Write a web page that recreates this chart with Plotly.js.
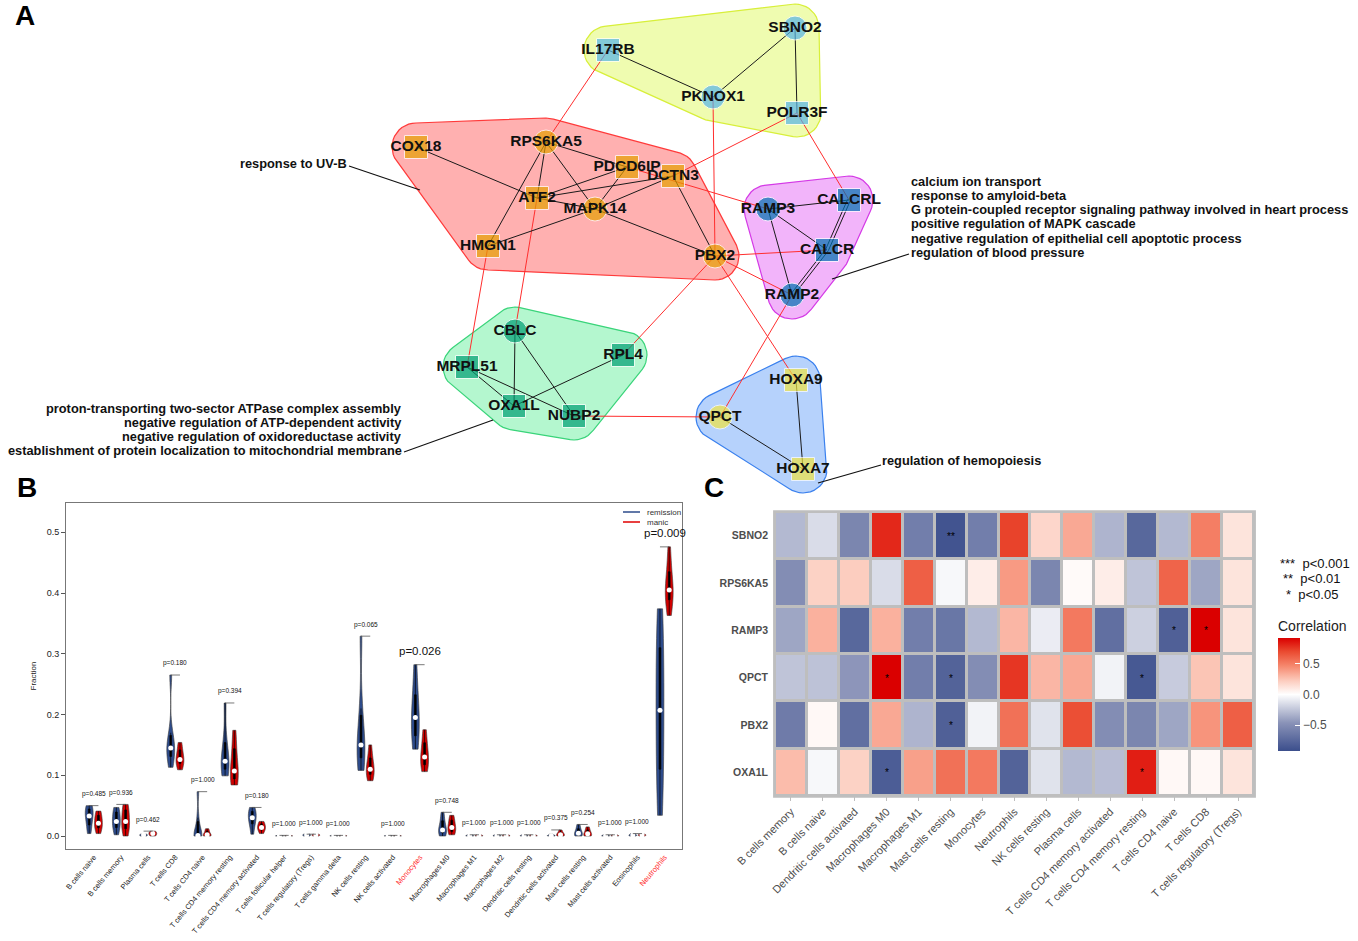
<!DOCTYPE html>
<html><head><meta charset="utf-8">
<script src="https://cdn.plot.ly/plotly-3.0.1.min.js"></script>
<style>html,body{margin:0;padding:0;background:#fff}#chart{width:1358px;height:941px}</style>
</head><body><div id="chart"></div>
<script>
// ================= DATA =================
// Panel A: network (node positions in figure pixels)
const nodeNames = ['SBNO2','IL17RB','PKNOX1','POLR3F','RPS6KA5','COX18','PDCD6IP','DCTN3','ATF2','MAPK14','HMGN1','PBX2','RAMP3','CALCRL','CALCR','RAMP2','CBLC','RPL4','MRPL51','OXA1L','NUBP2','HOXA9','QPCT','HOXA7'];
const nodeX = [795,608,713,797,546,416,627,673,537,595,488,715,768,849,827,792,515,623,467,514,574,796,720,803];
const nodeY = [28,50,97,113,142,147,167,176,198,209,246,256,209,200,250,295,331,355,367,406,416,380,417,469];
const nodeShape = ['circle','square','circle','square','circle','square','square','square','square','circle','square','circle','circle','square','square','circle','circle','square','square','square','square','square','circle','square'];
const nodeModule = [0,0,0,0,1,1,1,1,1,1,1,1,2,2,2,2,3,3,3,3,3,4,4,4];
const innerEdges = [
 ['IL17RB','PKNOX1'],['PKNOX1','SBNO2'],['SBNO2','POLR3F'],
 ['COX18','ATF2'],['RPS6KA5','ATF2'],['RPS6KA5','HMGN1'],['RPS6KA5','MAPK14'],['RPS6KA5','PDCD6IP'],
 ['ATF2','PDCD6IP'],['ATF2','DCTN3'],['ATF2','MAPK14'],['PDCD6IP','MAPK14'],['DCTN3','MAPK14'],
 ['HMGN1','MAPK14'],['MAPK14','PBX2'],['DCTN3','PBX2'],
 ['RAMP3','CALCRL'],['RAMP3','CALCR'],['RAMP3','RAMP2'],['CALCRL','CALCR'],['CALCRL','CALCR'],['CALCR','RAMP2'],['CALCR','RAMP2'],
 ['CBLC','OXA1L'],['CBLC','NUBP2'],['MRPL51','OXA1L'],['MRPL51','NUBP2'],['RPL4','OXA1L'],
 ['QPCT','HOXA7'],['HOXA9','HOXA7']];
const crossEdges = [
 ['IL17RB','RPS6KA5'],['PKNOX1','PBX2'],['POLR3F','DCTN3'],['POLR3F','CALCRL'],['PDCD6IP','RAMP3'],
 ['PBX2','CALCR'],['PBX2','RAMP2'],['PBX2','RPL4'],['PBX2','HOXA9'],['HMGN1','MRPL51'],['ATF2','CBLC'],
 ['RAMP2','QPCT'],['NUBP2','QPCT']];
const moduleTerms = [
 [],
 ['response to UV-B'],
 ['calcium ion transport','response to amyloid-beta','G protein-coupled receptor signaling pathway involved in heart process','positive regulation of MAPK cascade','negative regulation of epithelial cell apoptotic process','regulation of blood pressure'],
 ['proton-transporting two-sector ATPase complex assembly','negative regulation of ATP-dependent activity','negative regulation of oxidoreductase activity','establishment of protein localization to mitochondrial membrane'],
 ['regulation of hemopoiesis']];

// Panel B: immune cell fractions
const cellTypes = ['B cells naive','B cells memory','Plasma cells','T cells CD8','T cells CD4 naive','T cells CD4 memory resting','T cells CD4 memory activated','T cells follicular helper','T cells regulatory (Tregs)','T cells gamma delta','NK cells resting','NK cells activated','Monocytes','Macrophages M0','Macrophages M1','Macrophages M2','Dendritic cells resting','Dendritic cells activated','Mast cells resting','Mast cells activated','Eosinophils','Neutrophils'];
const remission = [
 [0.004,0.015,0.028,0.033,0.040,0.046,0.050],
 [0.002,0.012,0.020,0.024,0.032,0.042,0.047],
 [0,0.001,0.002,0.003],
 [0.113,0.128,0.140,0.145,0.152,0.170,0.265],
 [0,0,0,0.001,0.005,0.030,0.073],
 [0.099,0.108,0.116,0.123,0.135,0.160,0.219],
 [0.003,0.018,0.026,0.030,0.036,0.042,0.047],
 [0,0,0.0005,0.001],
 [0,0.001,0.002,0.003],
 [0,0,0.0005,0.001],
 [0.108,0.125,0.140,0.150,0.165,0.210,0.329],
 [0,0,0.0005,0.001],
 [0.143,0.160,0.180,0.195,0.210,0.240,0.282],
 [0,0.004,0.008,0.010,0.016,0.028,0.039],
 [0,0,0.001,0.002],
 [0,0,0.001,0.002],
 [0,0,0.001,0.002],
 [0,0,0.001,0.003],
 [0,0.001,0.003,0.006,0.012,0.019],
 [0,0,0.001,0.002],
 [0,0.001,0.002,0.004],
 [0.034,0.060,0.100,0.140,0.180,0.207,0.240,0.280,0.320,0.350,0.374]];
const manic = [
 [0.004,0.012,0.018,0.021,0.028,0.036,0.041],
 [0,0.010,0.018,0.024,0.034,0.046,0.052],
 [0,0.002,0.004,0.006,0.008],
 [0.109,0.118,0.124,0.126,0.132,0.145,0.154],
 [0,0,0.001,0.002,0.005,0.009,0.012],
 [0.084,0.092,0.100,0.107,0.125,0.150,0.174],
 [0.004,0.009,0.012,0.014,0.017,0.021,0.024],
 [0,0,0.0005,0.001],
 [0,0.001,0.002,0.003],
 [0,0,0.0005,0.001],
 [0.091,0.100,0.106,0.110,0.118,0.132,0.150],
 [0,0,0.0005,0.001],
 [0.106,0.115,0.124,0.130,0.140,0.158,0.175],
 [0.002,0.006,0.011,0.014,0.020,0.028,0.034],
 [0,0,0.001,0.002],
 [0,0,0.001,0.002],
 [0,0,0.001,0.002],
 [0,0.001,0.002,0.005,0.010],
 [0,0.001,0.002,0.005,0.010,0.015],
 [0,0,0.001,0.002],
 [0,0.001,0.002,0.003],
 [0.363,0.380,0.392,0.400,0.405,0.415,0.430,0.450,0.476]];
const pValues = ['p=0.485','p=0.936','p=0.462','p=0.180','p=1.000','p=0.394','p=0.180','p=1.000','p=1.000','p=1.000','p=0.065','p=1.000','p=0.026','p=0.748','p=1.000','p=1.000','p=1.000','p=0.375','p=0.254','p=1.000','p=1.000','p=0.009'];
const groupNames = ['remission','manic'];
const yTicksB = [0,0.1,0.2,0.3,0.4,0.5];
const yTickTextB = ['0.0','0.1','0.2','0.3','0.4','0.5'];

// Panel C: correlation heatmap
const heatGenes = ['SBNO2','RPS6KA5','RAMP3','QPCT','PBX2','OXA1L'];
const heatCells = ['B cells memory','B cells naive','Dendritic cells activated','Macrophages M0','Macrophages M1','Mast cells resting','Monocytes','Neutrophils','NK cells resting','Plasma cells','T cells CD4 memory activated','T cells CD4 memory resting','T cells CD4 naive','T cells CD8','T cells regulatory (Tregs)'];
const corrSBNO2   = [-0.30,-0.15,-0.55, 0.80,-0.60,-0.88,-0.60, 0.72, 0.18, 0.35,-0.32,-0.75,-0.30, 0.50, 0.12];
const corrRPS6KA5 = [-0.50, 0.20, 0.22,-0.15, 0.62,-0.03, 0.08, 0.40,-0.55, 0.02, 0.08,-0.25, 0.60,-0.38, 0.12];
const corrRAMP3   = [-0.38, 0.32,-0.75, 0.32,-0.60,-0.65,-0.30, 0.30,-0.08, 0.52,-0.70,-0.20,-0.80, 0.92, 0.12];
const corrQPCT    = [-0.25,-0.26,-0.45, 0.92,-0.60,-0.78,-0.50, 0.76, 0.30, 0.35,-0.05,-0.85,-0.22, 0.25, 0.12];
const corrPBX2    = [-0.62, 0.03,-0.70, 0.35,-0.32,-0.80,-0.05, 0.55,-0.12, 0.68,-0.50,-0.55,-0.38, 0.42, 0.62];
const corrOXA1L   = [ 0.28,-0.03, 0.20,-0.82, 0.38, 0.55, 0.52,-0.78,-0.12,-0.30,-0.28, 0.83, 0.03, 0.03, 0.12];
const starSBNO2   = ['','','','','','**','','','','','','','','',''];
const starRPS6KA5 = ['','','','','','','','','','','','','','',''];
const starRAMP3   = ['','','','','','','','','','','','','*','*',''];
const starQPCT    = ['','','','*','','*','','','','','','*','','',''];
const starPBX2    = ['','','','','','*','','','','','','','','',''];
const starOXA1L   = ['','','','*','','','','','','','','*','','',''];
const sigLegend = ['***\u00a0\u00a0p<0.001','**\u00a0\u00a0p<0.01','*\u00a0\u00a0p<0.05'];

// ================= STYLE / LAYOUT =================
const W = 1358, H = 941;
const BASE = 'Liberation Sans, Arial, sans-serif';
const modNodeColor = ['#56B4E9','#E69F00','#0072B2','#009E73','#F0E442'];
const modFill = ['rgba(238,252,172,0.95)','rgba(255,172,172,0.95)','rgba(241,176,250,0.95)','rgba(176,247,204,0.95)','rgba(178,208,252,0.95)'];
const modLine = ['#D8EF3A','#FF3A3A','#D43AE6','#3AD47A','#3A80EE'];
const groupColor = ['#2D4B8B','#D10000'];
const traces = [];
const idx = {}; nodeNames.forEach((n,i)=>idx[n]=i);

// --- hulls
function convexHull(points){
  const pts = points.slice().sort((a,b)=>a[0]-b[0]||a[1]-b[1]);
  const cross=(o,a,b)=>(a[0]-o[0])*(b[1]-o[1])-(a[1]-o[1])*(b[0]-o[0]);
  const lo=[]; for(const p of pts){while(lo.length>=2&&cross(lo[lo.length-2],lo[lo.length-1],p)<=0)lo.pop();lo.push(p);}
  const up=[]; for(let i=pts.length-1;i>=0;i--){const p=pts[i];while(up.length>=2&&cross(up[up.length-2],up[up.length-1],p)<=0)up.pop();up.push(p);}
  up.pop(); lo.pop(); return lo.concat(up);
}
const PAD = 24;
for(let m=0;m<5;m++){
  const pts=[];
  nodeNames.forEach((n,i)=>{ if(nodeModule[i]===m){ for(let k=0;k<40;k++){const a=2*Math.PI*k/40; pts.push([nodeX[i]+PAD*Math.cos(a), nodeY[i]+PAD*Math.sin(a)]);} }});
  const h = convexHull(pts); h.push(h[0]);
  traces.push({type:'scatter',mode:'lines',x:h.map(p=>p[0]),y:h.map(p=>p[1]),fill:'toself',fillcolor:modFill[m],
    line:{color:modLine[m],width:1.2},xaxis:'x',yaxis:'y',hoverinfo:'skip',showlegend:false});
}
// --- edges
function edgeTrace(list,color){
  const x=[],y=[],count={},seen={};
  list.forEach(e=>{const k=e.join('|');count[k]=(count[k]||0)+1;});
  list.forEach(e=>{
    const k=e.join('|'); const n=count[k]; const j=(seen[k]=(seen[k]||0)+1)-1;
    const a=idx[e[0]], b=idx[e[1]];
    let dx=nodeX[b]-nodeX[a], dy=nodeY[b]-nodeY[a]; const L=Math.hypot(dx,dy);
    const off=(j-(n-1)/2)*3; const ox=-dy/L*off, oy=dx/L*off;
    x.push(nodeX[a]+ox,nodeX[b]+ox,null); y.push(nodeY[a]+oy,nodeY[b]+oy,null);
  });
  return {type:'scatter',mode:'lines',x,y,line:{color,width:1},xaxis:'x',yaxis:'y',hoverinfo:'skip',showlegend:false};
}
traces.push(edgeTrace(crossEdges,'#FF2E2E'));
traces.push(edgeTrace(innerEdges,'#1A1A1A'));
// --- nodes
traces.push({type:'scatter',mode:'markers+text',x:nodeX,y:nodeY,text:nodeNames,textposition:'middle center',
  marker:{symbol:nodeShape,size:nodeShape.map(s=>s==='circle'?24:23),color:nodeModule.map(m=>modNodeColor[m]),line:{color:'#FFFFFF',width:1}},
  textfont:{family:BASE,size:15.5,color:'#111',weight:'bold'},xaxis:'x',yaxis:'y',hoverinfo:'skip',showlegend:false,cliponaxis:false});

// --- Panel B violins (one trace per violin so each is scaled to its own max width)
const OFF = 0.17;
function median(a){const s=a.slice().sort((p,q)=>p-q);const n=s.length;return n%2?s[(n-1)/2]:(s[n/2-1]+s[n/2])/2;}
[remission,manic].forEach((vals,g)=>{
  vals.forEach((arr,i)=>{
    traces.push({type:'violin',orientation:'v',x:arr.map(()=>i+(g?OFF:-OFF)),y:arr,name:groupNames[g]+' '+cellTypes[i],
      scalegroup:'g'+g+'_'+i,xaxis:'x2',yaxis:'y2',showlegend:false,scalemode:'width',spanmode:'hard',
      fillcolor:groupColor[g],line:{color:'#3A3A3A',width:0.6},points:false,
      box:{visible:true,width:0.22,fillcolor:'#000',line:{color:'#000',width:0.7}},meanline:{visible:false},hoverinfo:'skip'});
  });
});
// medians
const mx=[],my=[];
cellTypes.forEach((c,i)=>{mx.push(i-OFF,i+OFF);my.push(median(remission[i]),median(manic[i]));});
traces.push({type:'scatter',mode:'markers',x:mx,y:my,marker:{color:'#FFFFFF',size:5},xaxis:'x2',yaxis:'y2',hoverinfo:'skip',showlegend:false});
// brackets
const bx=[],by=[];
const pairMax = cellTypes.map((c,i)=>Math.max(...remission[i],...manic[i]));
cellTypes.forEach((c,i)=>{bx.push(i-OFF,i+OFF,null);by.push(pairMax[i],pairMax[i],null);});
traces.push({type:'scatter',mode:'lines',x:bx,y:by,line:{color:'#555',width:0.8},xaxis:'x2',yaxis:'y2',hoverinfo:'skip',showlegend:false});

// --- Panel C heatmap
const corrMatrix = [corrSBNO2,corrRPS6KA5,corrRAMP3,corrQPCT,corrPBX2,corrOXA1L];
const starMatrix = [starSBNO2,starRPS6KA5,starRAMP3,starQPCT,starPBX2,starOXA1L];
traces.push({type:'heatmap',z:corrMatrix,x:heatCells,y:heatGenes,text:starMatrix,texttemplate:'%{text}',
  textfont:{size:10,color:'#000'},xaxis:'x3',yaxis:'y3',xgap:3,ygap:3,zmin:-0.92,zmax:0.92,hoverinfo:'skip',
  colorscale:[[0,'#3B4E8C'],[0.25,'#8A93B8'],[0.5,'#FFFFFF'],[0.62,'#FCCDBF'],[0.75,'#F6896F'],[0.88,'#EA4A30'],[1,'#DA0000']],
  colorbar:{x:1278/W,xanchor:'left',y:1-684/H,yanchor:'middle',len:134,lenmode:'pixels',thickness:22,thicknessmode:'pixels',
    outlinewidth:0,xpad:0,ypad:0,tickvals:[-0.5,0,0.5],ticktext:['\u22120.5','0.0','0.5'],ticks:'inside',ticklen:5,tickcolor:'#FFFFFF',
    tickfont:{family:BASE,size:12,color:'#4D4D4D'},title:{text:'Correlation',side:'top',font:{family:BASE,size:14,color:'#222'}}}});

// ================= ANNOTATIONS / SHAPES =================
const ann=[], shapes=[];
function A(text,x,y,opt){ann.push(Object.assign({text,x,y,xref:'x',yref:'y',showarrow:false},opt));}
const termFont={family:BASE,size:12.8,color:'#111',weight:'bold'};
// panel letters
A('A',25,15,{font:{family:BASE,size:28,color:'#000',weight:'bold'}});
A('B',27,487,{font:{family:BASE,size:28,color:'#000',weight:'bold'}});
A('C',714,487,{font:{family:BASE,size:28,color:'#000',weight:'bold'}});
// module GO terms
moduleTerms[1].forEach((t,k)=>A(t,349,163+k*14.3,{xanchor:'right',font:termFont}));
moduleTerms[2].forEach((t,k)=>A(t,909,181+k*14.3,{xanchor:'left',font:termFont}));
moduleTerms[3].forEach((t,k)=>A(t,404,408+k*14.3,{xanchor:'right',font:termFont}));
moduleTerms[4].forEach((t,k)=>A(t,880,460+k*14.3,{xanchor:'left',font:termFont}));
[[349,166,420,190],[832,279,909,254],[404,452,493,420],[818,483,881,465]].forEach(s=>
  shapes.push({type:'line',xref:'x',yref:'y',x0:s[0],y0:s[1],x1:s[2],y1:s[3],line:{color:'#111',width:1.2}}));
// p-values
pValues.forEach((p,i)=>{
  const sig = parseFloat(p.slice(2))<0.05;
  ann.push({text:p,x:i,y:pairMax[i]+(sig?0.022:0.019),xref:'x2',yref:'y2',showarrow:false,
    font:{family:BASE,size:sig?11.5:6.5,color:'#111'}});
});
// panel B legend
groupNames.forEach((g,k)=>{
  shapes.push({type:'line',xref:'x',yref:'y',x0:623,x1:640,y0:512+k*10,y1:512+k*10,line:{color:k?'#E00000':groupColor[0],width:1.5}});
  A(g,645,512+k*10,{xanchor:'left',font:{family:BASE,size:8,color:'#333'}});
});
// significance legend (panel C)
sigLegend.forEach((t,k)=>A(t,[1278,1281,1284][k],[563,578,594][k],{xanchor:'left',font:{family:BASE,size:13,color:'#111'}}));
// heatmap gray frame
shapes.push({type:'rect',xref:'x3 domain',yref:'y3 domain',x0:-0.004,x1:1.004,y0:-0.006,y1:1.006,fillcolor:'#BEBEBE',line:{width:0},layer:'below'});

const tickTextB = cellTypes.map(c=>(c==='Monocytes'||c==='Neutrophils')?'<span style="color:#FF2A2A">'+c+'</span>':c);

const layout = {
  width:W,height:H,margin:{l:0,r:0,t:0,b:0},paper_bgcolor:'#FFFFFF',plot_bgcolor:'rgba(0,0,0,0)',
  font:{family:BASE,color:'#111'},violinmode:'overlay',violingap:0.15,violingroupgap:0,showlegend:false,
  xaxis:{domain:[0,1],range:[0,W],visible:false,fixedrange:true},
  yaxis:{domain:[0,1],range:[H,0],visible:false,fixedrange:true},
  xaxis2:{domain:[66/W,682/W],anchor:'y2',range:[-1.023,21.64],tickvals:cellTypes.map((c,i)=>i),ticktext:tickTextB,tickangle:-50,
    tickfont:{family:BASE,size:7.5,color:'#222'},showline:true,mirror:true,linecolor:'#777',linewidth:1,ticks:'',showgrid:false,zeroline:false},
  yaxis2:{domain:[1-849/H,1-503/H],anchor:'x2',range:[-0.0214,0.5482],tickvals:yTicksB,ticktext:yTickTextB,ticks:'outside',ticklen:4,tickcolor:'#555',
    tickfont:{family:BASE,size:9,color:'#222'},showline:true,mirror:true,linecolor:'#777',linewidth:1,showgrid:false,zeroline:false,
    title:{text:'Fraction',font:{family:BASE,size:8,color:'#222'},standoff:8}},
  xaxis3:{domain:[775/W,1254/W],anchor:'y3',tickangle:-45,tickfont:{family:BASE,size:11,color:'#4D4D4D'},ticks:'outside',ticklen:4,tickcolor:'#BEBEBE',
    showgrid:false,zeroline:false,showline:false},
  yaxis3:{domain:[1-796/H,1-512/H],anchor:'x3',autorange:'reversed',tickfont:{family:BASE,size:10.5,color:'#4D4D4D',weight:'bold'},ticks:'',
    ticklabelstandoff:6,showgrid:false,zeroline:false,showline:false},
  annotations:ann,shapes:shapes
};
Plotly.newPlot('chart',traces,layout,{staticPlot:true,displayModeBar:false});
</script></body></html>
